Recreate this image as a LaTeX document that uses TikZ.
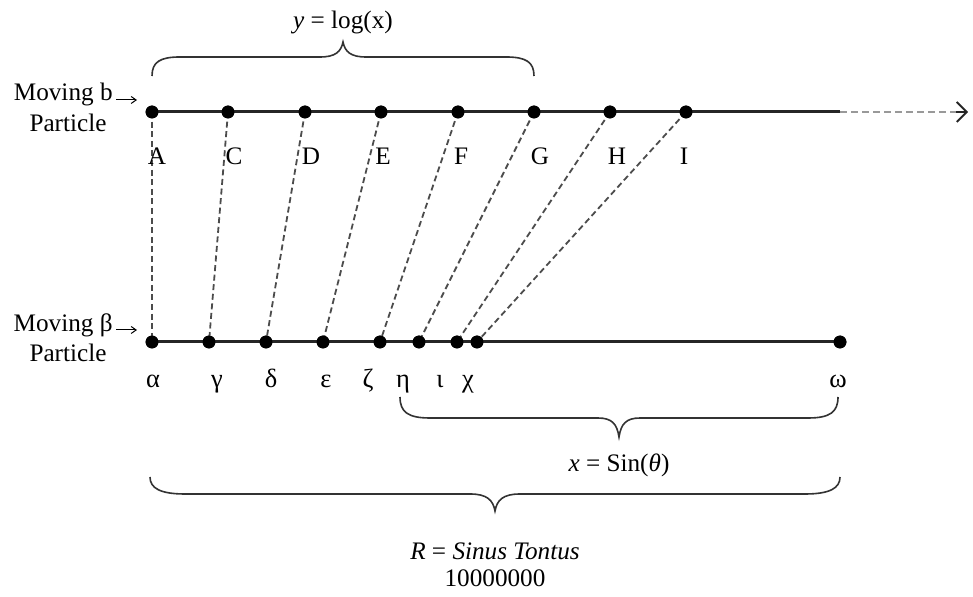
\documentclass[tikz,border=0pt]{standalone}
\usepackage{fontspec}
\setmainfont{Liberation Serif}
\usetikzlibrary{arrows.meta}
\begin{document}
\begin{tikzpicture}[x=0.5pt,y=-0.5pt,
  dot/.style={circle,fill=black,inner sep=0pt,minimum size=6.4pt},
  lbl/.style={inner sep=0pt,font=\fontsize{12.6}{14}\selectfont},
  glbl/.style={inner sep=0pt,anchor=base,font=\fontsize{13.2}{14}\selectfont},
  mainline/.style={line width=1.5pt,black!85},
  conn/.style={line width=0.9pt,black!70,dash pattern=on 3pt off 1.8pt},
  bracepath/.style={line width=0.8pt,black!80},
  smallarrow/.style={line width=0.5pt,-{Straight Barb[length=2.5pt,width=3.5pt]}}]
\useasboundingbox (0,0) rectangle (973,597);
% top particles
\foreach \n/\x in {A/152,C/228,D/305,E/381,F/458,G/534,H/610,I/686}
  \node[dot] (\n) at (\x,112) {};
% bottom particles
\foreach \n/\x in {al/152,ga/209,de/266,ep/323,ze/380,et/419,io/457,ch/477,om/840}
  \node[dot] (\n) at (\x,342) {};
\coordinate (tend) at (840,112);
\coordinate (tarrow) at (968,112);
% connectors
\foreach \a/\b in {A/al,C/ga,D/de,E/ep,F/ze,G/et,H/io,I/ch}
  \draw[conn] (\a.center) -- (\b.center);
% lines
\draw[mainline] (A.center) -- (tend);
\draw[mainline] (al.center) -- (om.center);
\draw[line width=1.3pt,black!40,dash pattern=on 3.5pt off 2pt] (tend) -- ([xshift=-2pt]tarrow);
\draw[line width=0.9pt,black!85,-{Straight Barb[length=5pt,width=10pt]}] ([xshift=-6pt]tarrow) -- (tarrow);
% redraw dots above lines
\foreach \n/\x in {A/152,C/228,D/305,E/381,F/458,G/534,H/610,I/686}
  \node[dot] at (\x,112) {};
\foreach \n/\x in {al/152,ga/209,de/266,ep/323,ze/380,et/419,io/457,ch/477,om/840}
  \node[dot] at (\x,342) {};
% top labels
\foreach \n/\x/\t in {A/157/A,C/234/C,D/311/D,E/383/E,F/461/F,G/540/G,H/617/H,I/684/I}
  \node[lbl] (l\n) at (\x,156) {\t};
% bottom labels
\foreach \n/\x/\t in {al/153/α,ga/217/γ,de/271/δ,ep/326/ε,ze/368/ζ,et/403/η,io/440/ι,ch/468/χ,om/838/ω}
  \node[glbl] (l\n) at (\x,388) {\t};
% side labels
\node[lbl,anchor=east] (mb) at (113,94) {Moving b};
\node[lbl] (pb) at (68,123) {Particle};
\coordinate (mbs) at (116,100);
\coordinate (mbe) at (137,100);
\draw[smallarrow] (mbs) -- (mbe);
\node[lbl,anchor=east] (mbeta) at (113,325) {Moving β};
\node[lbl] (pbeta) at (68,353) {Particle};
\coordinate (mbetas) at (116,330);
\coordinate (mbetae) at (137,330);
\draw[smallarrow] (mbetas) -- (mbetae);
% top brace
\draw[bracepath] (152,76) .. controls (152,62) and (160,57) .. (180,57) -- (320,57)
  .. controls (335,57) and (341,52) .. (343,42)
  .. controls (345,52) and (351,57) .. (366,57) -- (506,57)
  .. controls (526,57) and (534,62) .. (534,76);
\node[lbl] (ylog) at (343,22) {\textit{y} = log(x)};
% brace x = Sin
\draw[bracepath] (400,397) .. controls (400,412) and (408,418) .. (430,418) -- (598,418)
  .. controls (612,418) and (617,424) .. (619,437)
  .. controls (621,424) and (626,418) .. (640,418) -- (808,418)
  .. controls (830,418) and (838,412) .. (838,397);
\node[lbl] (xsin) at (619,465) {\textit{x} = Sin(\textit{θ})};
% big brace
\draw[bracepath] (150,477) .. controls (150,488) and (160,494) .. (185,494) -- (470,494)
  .. controls (487,494) and (493,500) .. (495,511)
  .. controls (497,500) and (503,494) .. (520,494) -- (805,494)
  .. controls (830,494) and (840,488) .. (840,477);
\node[lbl] (rsin) at (495,551) {\textit{R} = \textit{Sinus Tontus}};
\node[lbl] (num) at (495,578) {10000000};
\end{tikzpicture}
\end{document}
